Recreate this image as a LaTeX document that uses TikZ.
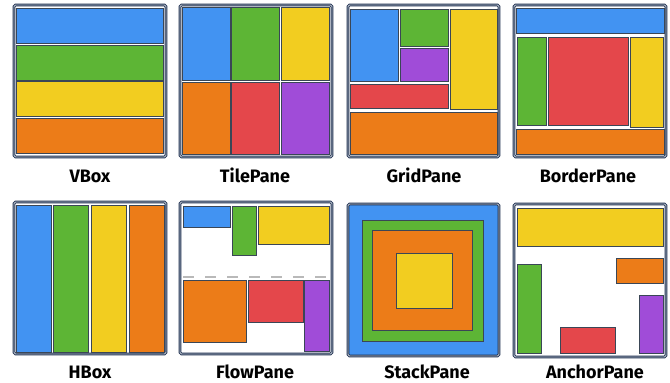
\documentclass[tikz,border=0pt]{standalone}
\usepackage{fontspec}
\setmainfont{Fira Sans}

\definecolor{paneblue}{HTML}{4293F2}
\definecolor{panegreen}{HTML}{5DB535}
\definecolor{paneyellow}{HTML}{F2CD20}
\definecolor{paneorange}{HTML}{EC7C18}
\definecolor{panered}{HTML}{E4474B}
\definecolor{panepurple}{HTML}{A04CD8}
\definecolor{framenavy}{HTML}{1F3050}
\definecolor{framegray}{HTML}{C4CCD6}
\definecolor{celledge}{HTML}{3A4656}

\begin{document}
\begin{tikzpicture}[x=1pt, y=-1pt,
    frame/.style={draw=framenavy, line width=0.9pt, double=framegray, double distance=0.9pt, rounded corners=1.5pt, fill=white},
    cell/.style={draw=celledge, line width=0.6pt},
    caption/.style={anchor=base, font=\fontsize{18}{20}\selectfont\bfseries},
    flowline/.style={draw=gray!55, line width=2pt, dash pattern=on 11pt off 11pt}]

    \useasboundingbox (0,0) rectangle (670,383);

    % VBox
    \draw [frame] (14,5) rectangle (166,157);
    \foreach \c [count=\i from 0] in {paneblue,panegreen,paneyellow,paneorange}
        \draw [cell, fill=\c] (16,8+36.8*\i) rectangle (163,43+36.8*\i);
    \node (vboxlbl) [caption] at (90,182) {VBox};

    % TilePane
    \draw [frame] (180,5) rectangle (332,157);
    \foreach \c [count=\i from 0] in {paneblue,panegreen,paneyellow}
        \draw [cell, fill=\c] (182+49.5*\i,7) rectangle (230+49.5*\i,80);
    \foreach \c [count=\i from 0] in {paneorange,panered,panepurple}
        \draw [cell, fill=\c] (182+49.5*\i,82) rectangle (230+49.5*\i,154);
    \node (tilelbl) [caption] at (255,182) {TilePane};

    % GridPane
    \draw [frame] (348,5) rectangle (499,157);
    \draw [cell, fill=paneblue] (350,9) rectangle (398,81);
    \draw [cell, fill=panegreen] (400,9) rectangle (448,46);
    \draw [cell, fill=panepurple] (400,48) rectangle (448,81);
    \draw [cell, fill=paneyellow] (450,9) rectangle (497,109);
    \draw [cell, fill=panered] (350,84) rectangle (448,108);
    \draw [cell, fill=paneorange] (350,112) rectangle (497,154);
    \node (gridlbl) [caption] at (424,182) {GridPane};

    % BorderPane
    \draw [frame] (514,5) rectangle (666,157);
    \draw [cell, fill=paneblue] (516,8) rectangle (664,33);
    \draw [cell, fill=panegreen] (517,37) rectangle (546,125);
    \draw [cell, fill=panered] (548,37) rectangle (628,125);
    \draw [cell, fill=paneyellow] (630,37) rectangle (663,127);
    \draw [cell, fill=paneorange] (516,129) rectangle (664,154);
    \node (borderlbl) [caption] at (588,182) {BorderPane};

    % HBox
    \draw [frame] (14,202) rectangle (166,354);
    \foreach \c [count=\i from 0] in {paneblue,panegreen,paneyellow,paneorange}
        \draw [cell, fill=\c] (16+37.6*\i,205) rectangle (51+37.6*\i,352);
    \node (hboxlbl) [caption] at (90,378) {HBox};

    % FlowPane
    \draw [frame] (180,202) rectangle (332,354);
    \draw [cell, fill=paneblue] (183,206) rectangle (230,227);
    \draw [cell, fill=panegreen] (232,206) rectangle (256,255);
    \draw [cell, fill=paneyellow] (258,206) rectangle (329,244);
    \coordinate (wrapL) at (183,277);
    \coordinate (wrapR) at (330,277);
    \draw [flowline] (wrapL) -- (wrapR);
    \draw [cell, fill=paneorange] (183,280) rectangle (246,342);
    \draw [cell, fill=panered] (248,280) rectangle (303,322);
    \draw [cell, fill=panepurple] (304,280) rectangle (329,351);
    \node (flowlbl) [caption] at (255,378) {FlowPane};

    % StackPane
    \draw [frame, fill=paneblue] (348,204) rectangle (499,356);
    \draw [cell, fill=panegreen] (362,220) rectangle (483,341);
    \draw [cell, fill=paneorange] (372,230) rectangle (472,330);
    \draw [cell, fill=paneyellow] (396,253) rectangle (452,308);
    \node (stacklbl) [caption] at (427,378) {StackPane};

    % AnchorPane
    \draw [frame] (514,204) rectangle (666,357);
    \draw [cell, fill=paneyellow] (517,208) rectangle (663,246);
    \draw [cell, fill=panegreen] (517,264) rectangle (541,353);
    \draw [cell, fill=paneorange] (616,258) rectangle (663,283);
    \draw [cell, fill=panepurple] (639,295) rectangle (663,353);
    \draw [cell, fill=panered] (560,327) rectangle (615,353);
    \node (anchorlbl) [caption] at (595,378) {AnchorPane};
\end{tikzpicture}
\end{document}
